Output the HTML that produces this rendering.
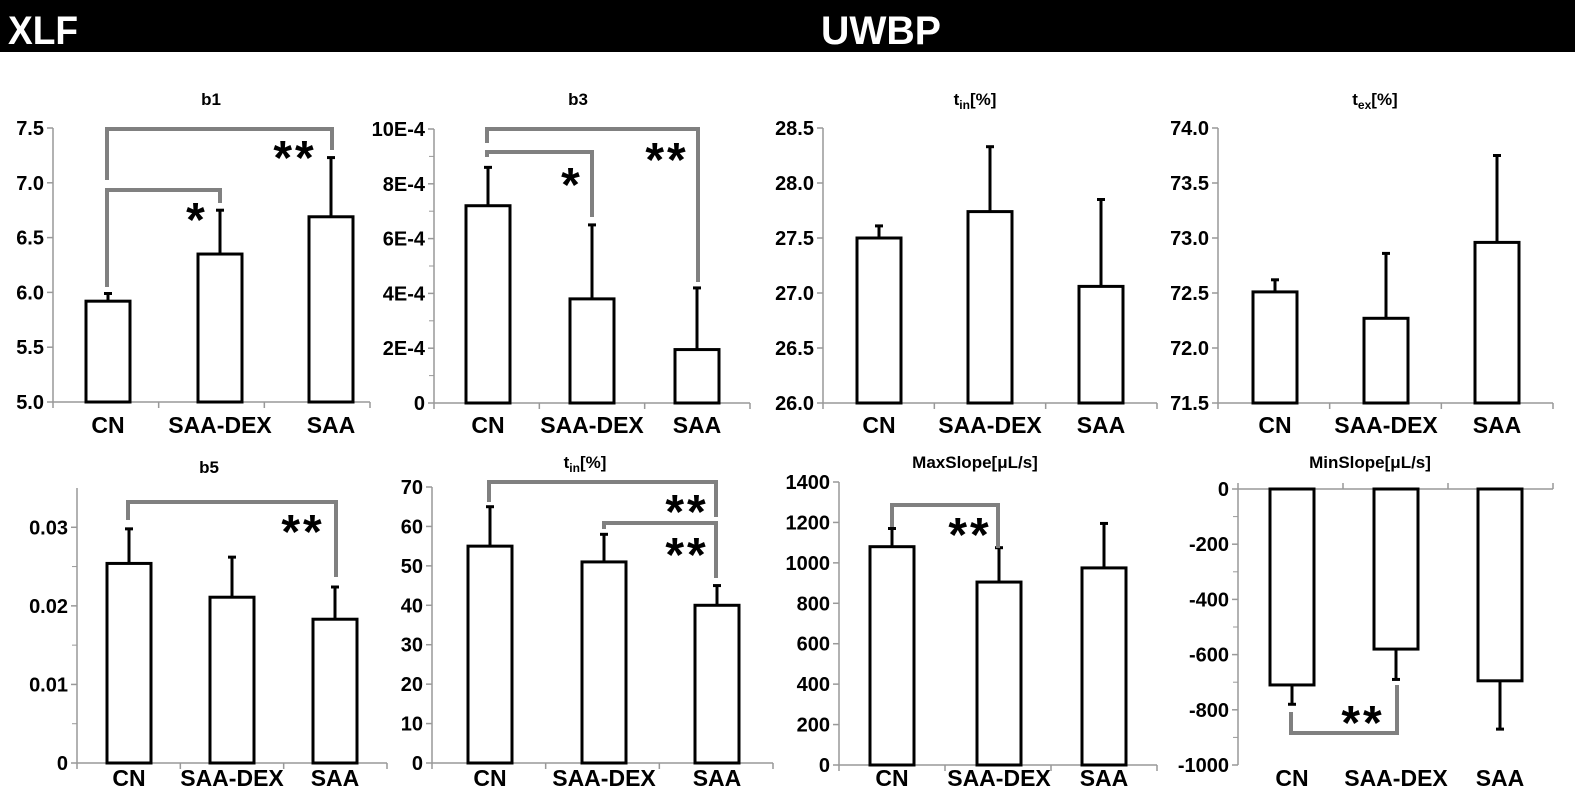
<!DOCTYPE html>
<html><head><meta charset="utf-8"><style>
html,body{margin:0;padding:0;background:#fff;width:1575px;height:791px;overflow:hidden}
svg text{font-family:"Liberation Sans",Arial,sans-serif;font-weight:bold}
</style></head><body>
<svg id="s" width="1575" height="791" viewBox="0 0 1575 791" xmlns="http://www.w3.org/2000/svg">
<rect x="0" y="0" width="1575" height="52" fill="#000"/>
<text x="8" y="44" font-size="40" fill="#fff" textLength="70" lengthAdjust="spacingAndGlyphs">XLF</text>
<text x="821" y="44" font-size="40" fill="#fff" textLength="120" lengthAdjust="spacingAndGlyphs">UWBP</text>
</svg>
<script>
const s=document.getElementById('s');let h='';
function ln(x1,y1,x2,y2,c,w){h+=`<line x1="${x1}" y1="${y1}" x2="${x2}" y2="${y2}" stroke="${c}" stroke-width="${w}"/>`;}
function tx(x,y,t,sz,anc,extra){h+=`<text x="${x}" y="${y}" font-size="${sz}" text-anchor="${anc||'middle'}" ${extra||''}>${t}</text>`;}
function panel(p){
 const Y=v=>p.yb+(v-p.min)/(p.max-p.min)*(p.yt-p.yb);
 ln(p.ax,p.yt,p.ax,p.yb,'#999',1.5);
 const base=p.base!==undefined?Y(p.base):p.yb;
 ln(p.ax,base,p.xr,base,'#999',1.5);
 const sp=(p.xr-p.ax)/3;
 for(let i=0;i<=3;i++)ln(p.ax+i*sp,base,p.ax+i*sp,base+(p.base!==undefined?-6:6),'#999',1.5);
 p.ticks.forEach((t,i)=>{const y=Y(t);ln(p.ax-6,y,p.ax,y,'#999',1.5);tx(p.ax-9,y+7,p.lab[i],20,'end');});
 if(p.minor)p.minor.forEach(t=>ln(p.ax-5,Y(t),p.ax,Y(t),'#999',1));
 p.bars.forEach((b,i)=>{const c=p.cx[i];const y0=Y(b[0]),ye=Y(b[1]);
  h+=`<rect x="${c-22}" y="${Math.min(y0,base)}" width="44" height="${Math.abs(base-y0)}" fill="#fff" stroke="#000" stroke-width="3"/>`;
  ln(c,y0,c,ye,'#000',3);ln(c-4,ye,c+4,ye,'#000',3);});
 ['CN','SAA-DEX','SAA'].forEach((n,i)=>tx(p.cx[i],p.labY,n,23));
 tx(p.tx,p.ty,p.title,17);
 (p.br||[]).forEach(b=>{const[x1,x2,yt,l1,l2]=b;
  h+=`<polyline points="${x1},${l1} ${x1},${yt} ${x2},${yt} ${x2},${l2}" fill="none" stroke="#808080" stroke-width="4"/>`;});
 (p.st||[]).forEach(t=>{tx(t[0],t[1]+26,t[2],48,'middle','letter-spacing="3"');});
}
panel({ax:53,xr:370,yt:128,yb:402,min:5,max:7.5,ticks:[5,5.5,6,6.5,7,7.5],lab:['5.0','5.5','6.0','6.5','7.0','7.5'],
 cx:[108,220,331],bars:[[5.92,5.99],[6.35,6.75],[6.69,7.23]],labY:433,tx:211,ty:105,title:'b1',
 br:[[107,332,129,180,150],[107,220,190,287,203]],st:[[295,148,'**'],[197,210,'*']]});
panel({ax:434,xr:750,yt:129,yb:403,min:0,max:10,ticks:[0,2,4,6,8,10],lab:['0','2E-4','4E-4','6E-4','8E-4','10E-4'],
 minor:[1,3,5,7,9],
 cx:[488,592,697],bars:[[7.2,8.6],[3.8,6.5],[1.95,4.2]],labY:433,tx:578,ty:105,title:'b3',
 br:[[487,698,129,143,282],[487,592,152,157,217]],st:[[572,175,'*'],[667,150,'**']]});
panel({ax:823,xr:1157,yt:128,yb:403,min:26,max:28.5,ticks:[26,26.5,27,27.5,28,28.5],lab:['26.0','26.5','27.0','27.5','28.0','28.5'],
 cx:[879,990,1101],bars:[[27.5,27.61],[27.74,28.33],[27.06,27.85]],labY:433,tx:975,ty:105,title:'t<tspan font-size="12" dy="4">in</tspan><tspan dy="-4">[%]</tspan>'});
panel({ax:1218,xr:1553,yt:128,yb:403,min:71.5,max:74,ticks:[71.5,72,72.5,73,73.5,74],lab:['71.5','72.0','72.5','73.0','73.5','74.0'],
 cx:[1275,1386,1497],bars:[[72.51,72.62],[72.27,72.86],[72.96,73.75]],labY:433,tx:1375,ty:105,title:'t<tspan font-size="12" dy="4">ex</tspan><tspan dy="-4">[%]</tspan>'});
panel({ax:77,xr:387,yt:488,yb:763,min:0,max:0.035,ticks:[0,0.01,0.02,0.03],lab:['0','0.01','0.02','0.03'],
 minor:[0.005,0.015,0.025],
 cx:[129,232,335],bars:[[0.0254,0.0298],[0.0211,0.0262],[0.0183,0.0224]],labY:786,tx:209,ty:473,title:'b5',
 br:[[128,336,502,520,577]],st:[[303,522,'**']]});
panel({ax:432,xr:773,yt:487,yb:763,min:0,max:70,ticks:[0,10,20,30,40,50,60,70],lab:['0','10','20','30','40','50','60','70'],
 cx:[490,604,717],bars:[[55,65],[51,58],[40,45]],labY:786,tx:585,ty:468,title:'t<tspan font-size="12" dy="4">in</tspan><tspan dy="-4">[%]</tspan>',
 br:[[489,716,482,502,517],[604,716,523,529,578]],st:[[687,502,'**'],[687,545,'**']]});
panel({ax:839,xr:1157,yt:482,yb:765,min:0,max:1400,ticks:[0,200,400,600,800,1000,1200,1400],lab:['0','200','400','600','800','1000','1200','1400'],
 cx:[892,999,1104],bars:[[1080,1170],[905,1075],[975,1195]],labY:786,tx:975,ty:468,title:'MaxSlope[μL/s]',
 br:[[892,998,505,527,548]],st:[[970,525,'**']]});
panel({ax:1238,xr:1553,yt:489,yb:765,min:-1000,max:0,base:0,ticks:[0,-200,-400,-600,-800,-1000],lab:['0','-200','-400','-600','-800','-1000'],
 minor:[-100,-300,-500,-700,-900],
 cx:[1292,1396,1500],bars:[[-710,-780],[-580,-690],[-695,-870]],labY:786,tx:1370,ty:468,title:'MinSlope[μL/s]',
 br:[[1291,1397,733,712,685]],st:[[1363,713,'**']]});
s.insertAdjacentHTML('beforeend',h);
</script>
</body></html>
